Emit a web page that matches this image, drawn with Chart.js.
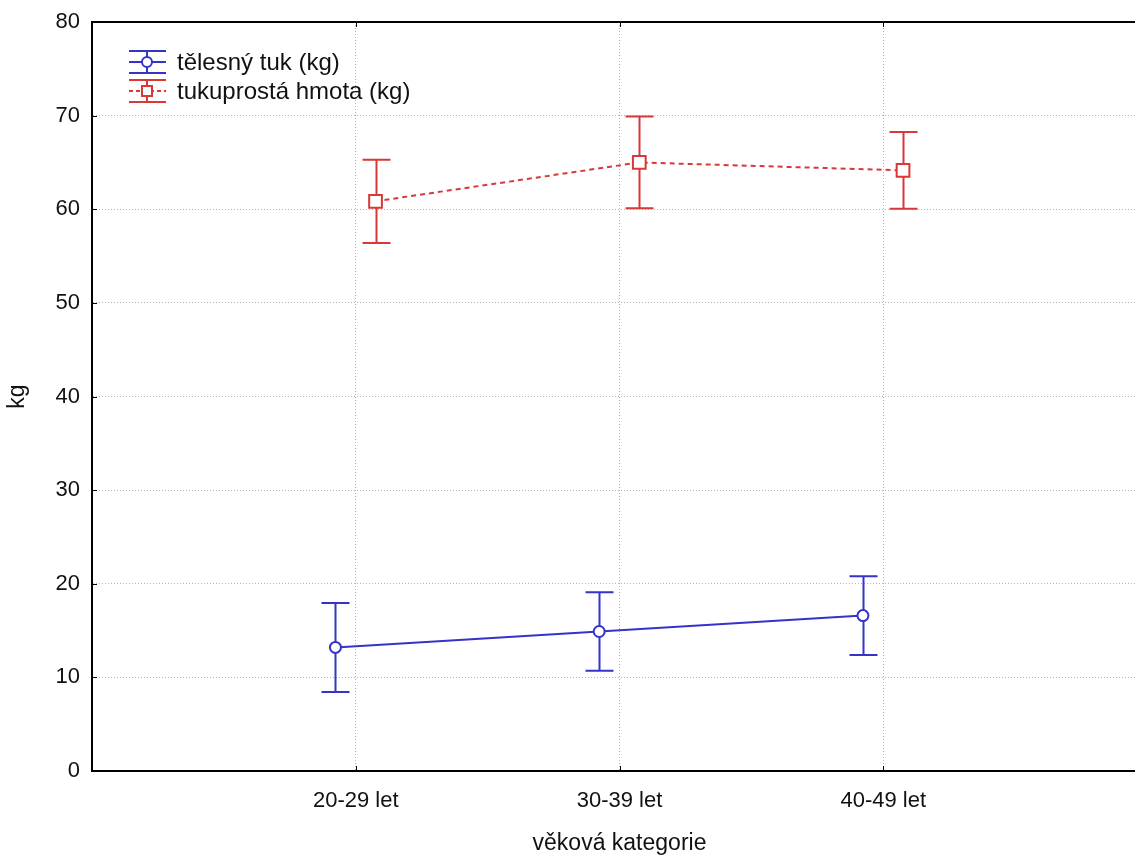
<!DOCTYPE html>
<html>
<head>
<meta charset="utf-8">
<script src="https://cdn.jsdelivr.net/npm/chart.js@4.4.1/dist/chart.umd.min.js"></script>
<style>
  html, body { margin: 0; padding: 0; background: #fff; overflow: hidden; }
  #wrap { width: 1158px; height: 855px; overflow: hidden; }
  #chart { display: block; width: 1158px; height: 855px; }
</style>
</head>
<body>
<div id="wrap"><canvas id="chart" width="1158" height="855"></canvas></div>
<script>
// age groups on the x axis
const categories = ['20-29 let', '30-39 let', '40-49 let'];

// body fat (kg): mean and half-width of the error bar
const fatMean = [13.2, 14.9, 16.6];
const fatErr = [4.75, 4.2, 4.2];

// fat-free mass (kg): mean and half-width of the error bar
const leanMean = [60.85, 65.0, 64.15];
const leanErr = [4.45, 4.9, 4.1];

const seriesLabels = ['tělesný tuk (kg)', 'tukuprostá hmota (kg)'];

const BLUE = '#3434c8';
const RED = '#d83838';
const FONT = 'Liberation Sans, Arial, sans-serif';

// each series is nudged sideways so the whiskers don't overlap
const toPoints = (means, errs, shift) => means.map((y, i) => ({ x: i + 1 + shift, y, err: errs[i] }));

// scales reserve room for half a label plus tick padding; the frame is fixed instead
const noEdgePadding = (scale) => {
  scale.paddingTop = 0;
  scale.paddingBottom = 0;
  scale.paddingLeft = 0;
  scale.paddingRight = 0;
};

// whiskers are drawn under the markers so the white fill covers them
const errorBars = {
  id: 'errorBars',
  beforeDatasetsDraw(chart) {
    const { ctx, scales: { x, y } } = chart;
    const cap = 14;
    chart.data.datasets.forEach((ds) => {
      ctx.save();
      ctx.strokeStyle = ds.borderColor;
      ctx.lineWidth = 2;
      ds.data.forEach((p) => {
        const px = Math.round(x.getPixelForValue(p.x)) + 0.5;
        const top = y.getPixelForValue(p.y + p.err);
        const bot = y.getPixelForValue(p.y - p.err);
        ctx.beginPath();
        ctx.moveTo(px, top);
        ctx.lineTo(px, bot);
        ctx.moveTo(px - cap, top);
        ctx.lineTo(px + cap, top);
        ctx.moveTo(px - cap, bot);
        ctx.lineTo(px + cap, bot);
        ctx.stroke();
      });
      ctx.restore();
    });
  },
};

// top frame line and short inward tick marks, Statistica style
const frame = {
  id: 'frame',
  afterDraw(chart) {
    const { ctx, chartArea: a, scales: { x, y } } = chart;
    ctx.save();
    ctx.strokeStyle = '#000';
    ctx.lineWidth = 2;
    ctx.beginPath();
    ctx.moveTo(a.left, a.top);
    ctx.lineTo(a.right + 10, a.top);
    ctx.stroke();
    ctx.lineWidth = 1;
    ctx.beginPath();
    y.ticks.forEach((t) => {
      const py = Math.round(y.getPixelForValue(t.value)) + 0.5;
      ctx.moveTo(a.left, py);
      ctx.lineTo(a.left + 5, py);
    });
    categories.forEach((c, i) => {
      const px = Math.round(x.getPixelForValue(i + 1)) + 0.5;
      ctx.moveTo(px, a.bottom);
      ctx.lineTo(px, a.bottom - 5);
      ctx.moveTo(px, a.top);
      ctx.lineTo(px, a.top + 5);
    });
    ctx.stroke();
    ctx.restore();
  },
};

// legend with the error-bar glyph in front of each label
const legendBox = {
  id: 'legendBox',
  afterDraw(chart) {
    const { ctx } = chart;
    const x0 = 129;
    const x1 = 166;
    const cx = 147;
    const rows = [
      { top: 51, mid: 62, bot: 73, color: BLUE, dash: [], marker: 'circle' },
      { top: 80, mid: 91, bot: 102, color: RED, dash: [4, 3], marker: 'rect' },
    ];
    rows.forEach((r, i) => {
      ctx.save();
      ctx.strokeStyle = r.color;
      ctx.lineWidth = 2;
      ctx.beginPath();
      ctx.moveTo(x0, r.top); ctx.lineTo(x1, r.top);
      ctx.moveTo(x0, r.bot); ctx.lineTo(x1, r.bot);
      ctx.moveTo(cx, r.top); ctx.lineTo(cx, r.bot);
      ctx.stroke();
      ctx.setLineDash(r.dash);
      ctx.beginPath();
      ctx.moveTo(x0, r.mid); ctx.lineTo(x1, r.mid);
      ctx.stroke();
      ctx.setLineDash([]);
      ctx.fillStyle = '#fff';
      ctx.beginPath();
      if (r.marker === 'circle') ctx.arc(cx, r.mid, 5, 0, Math.PI * 2);
      else ctx.rect(cx - 5, r.mid - 5, 10, 10);
      ctx.fill();
      ctx.stroke();
      ctx.fillStyle = '#111';
      ctx.font = `24px ${FONT}`;
      ctx.textBaseline = 'middle';
      ctx.fillText(seriesLabels[i], 177, r.mid + 1);
      ctx.restore();
    });
  },
};

const gridColor = '#b4b4b4';

const chart = new Chart(document.getElementById('chart'), {
  type: 'line',
  data: {
    datasets: [
      {
        label: seriesLabels[0],
        data: toPoints(fatMean, fatErr, -0.077),
        borderColor: BLUE,
        borderWidth: 2,
        pointStyle: 'circle',
        pointRadius: 5.5,
        pointBorderWidth: 2,
        pointBackgroundColor: '#fff',
        pointBorderColor: BLUE,
        tension: 0,
      },
      {
        label: seriesLabels[1],
        data: toPoints(leanMean, leanErr, 0.075),
        borderColor: RED,
        borderWidth: 2,
        borderDash: [5, 4],
        pointStyle: 'rect',
        pointRadius: 9,
        pointBorderWidth: 2,
        pointBackgroundColor: '#fff',
        pointBorderColor: RED,
        tension: 0,
      },
    ],
  },
  options: {
    responsive: false,
    maintainAspectRatio: false,
    animation: false,
    layout: { padding: { top: 22, right: 4, left: 0, bottom: 0 } },
    plugins: {
      legend: { display: false },
      tooltip: { enabled: false },
    },
    scales: {
      x: {
        type: 'linear',
        min: 0,
        max: 4,
        afterFit: (scale) => { scale.height = 84; noEdgePadding(scale); },
        afterBuildTicks: (scale) => {
          scale.ticks = [0, 1, 2, 3, 4].map((v) => ({ value: v }));
        },
        ticks: {
          autoSkip: false,
          maxRotation: 0,
          padding: 17,
          color: '#111',
          font: { family: FONT, size: 22 },
          callback: (v) => categories[v - 1] || '',
        },
        grid: {
          drawTicks: false,
          color: (c) => (c.tick && c.tick.value >= 1 && c.tick.value <= 3 ? gridColor : 'rgba(0,0,0,0)'),
          lineWidth: 1,
        },
        border: { display: true, color: '#000', width: 2, dash: [1, 2] },
        title: {
          display: true,
          text: 'věková kategorie',
          color: '#111',
          font: { family: FONT, size: 23 },
          padding: { top: 0, bottom: -2 },
        },
      },
      y: {
        min: 0,
        max: 80,
        afterFit: (scale) => { scale.width = 92; noEdgePadding(scale); },
        ticks: {
          stepSize: 10,
          padding: 12,
          color: '#111',
          font: { family: FONT, size: 22 },
        },
        grid: {
          drawTicks: false,
          color: (c) => (c.tick && c.tick.value > 0 && c.tick.value < 80 ? gridColor : 'rgba(0,0,0,0)'),
          lineWidth: 1,
        },
        border: { display: true, color: '#000', width: 2, dash: [1, 2] },
        title: {
          display: true,
          text: 'kg',
          color: '#111',
          font: { family: FONT, size: 23 },
          padding: { top: 4, bottom: 0 },
        },
      },
    },
  },
  plugins: [errorBars, frame, legendBox],
});

// canvas is wider than the window; make sure the chart keeps its full size
chart.resize(1158, 855);
</script>
</body>
</html>
